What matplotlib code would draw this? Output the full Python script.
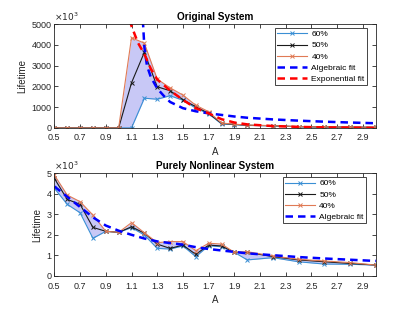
import matplotlib
matplotlib.use("Agg")
import matplotlib.pyplot as plt

plt.rcParams["font.family"] = ["Liberation Sans", "DejaVu Sans"]
plt.rcParams["font.size"] = 6.5

# ---- Original system ----
A_orig = [0.5, 0.6, 0.7, 0.8, 0.9, 1.0, 1.1, 1.2, 1.3, 1.4, 1.5, 1.6, 1.7,
          1.8, 1.9, 2.0, 2.2, 2.4, 2.6, 2.8, 3.0]
orig_60 = [0, 0, 0, 0, 0, 0, 0, 1430, 1380, 1550, 1330, 950, 680,
           190, 160, 120, 100, 55, 45, 35, 25]
orig_50 = [0, 0, 0, 0, 0, 0, 2170, 3640, 1980, 1790, 1360, 1020, 700,
           220, 170, 130, 105, 60, 48, 38, 28]
orig_40 = [0, 0, 0, 0, 0, 0, 4340, 4080, 2350, 1930, 1580, 1090, 780,
           235, 180, 135, 110, 62, 50, 40, 30]

alg_A_orig = [1.188, 1.2, 1.22, 1.25, 1.3, 1.35, 1.4, 1.5, 1.6, 1.7, 1.8,
              1.9, 2.0, 2.2, 2.4, 2.6, 2.8, 3.0]
alg_orig = [5200, 3900, 3000, 2450, 1900, 1550, 1250, 950, 800, 700, 625,
            550, 490, 410, 350, 300, 260, 225]

exp_A_orig = [1.085, 1.1, 1.15, 1.2, 1.25, 1.3, 1.4, 1.5, 1.6, 1.7, 1.8,
              1.9, 2.0, 2.2, 2.4, 2.6, 2.8, 3.0]
exp_orig = [5200, 4900, 4100, 3550, 2850, 2330, 1800, 1350, 950, 700, 420,
            260, 170, 90, 50, 25, 12, 5]

# ---- Purely nonlinear system ----
A_nl = A_orig
nl_60 = [4.26, 3.48, 3.07, 1.83, 2.17, 2.12, 2.35, 1.99, 1.34, 1.31, 1.46,
         0.94, 1.47, 1.42, 1.15, 0.78, 0.89, 0.69, 0.58, 0.57, 0.53]
nl_50 = [4.74, 3.72, 3.48, 2.36, 2.17, 2.12, 2.39, 2.08, 1.55, 1.34, 1.50,
         1.05, 1.50, 1.46, 1.15, 1.15, 0.94, 0.78, 0.69, 0.61, 0.53]
nl_40 = [4.90, 3.93, 3.61, 2.96, 2.17, 2.12, 2.59, 2.10, 1.62, 1.67, 1.67,
         1.23, 1.59, 1.55, 1.15, 1.18, 0.97, 0.81, 0.73, 0.65, 0.53]

alg_A_nl = [0.5, 0.6, 0.7, 0.8, 0.9, 1.0, 1.1, 1.2, 1.3, 1.4, 1.5, 1.6,
            1.7, 1.8, 2.0, 2.2, 2.4, 2.6, 2.8, 3.0]
alg_nl = [4.35, 3.85, 3.35, 2.85, 2.45, 2.2, 2.0, 1.82, 1.68, 1.60, 1.52,
          1.40, 1.31, 1.24, 1.10, 1.01, 0.92, 0.85, 0.79, 0.73]

C60 = "#3a8fd4"
C50 = "#1a1a1a"
C40 = "#e07a55"
FILL = "#c8c8f6"
AXC = "#262626"


def style_axes(ax, ymax, yticks):
    ax.set_xlim(0.5, 3.0)
    ax.set_ylim(0, ymax)
    ax.set_xticks([0.5 + 0.2 * i for i in range(13)])
    ax.set_xticklabels([f"{0.5 + 0.2 * i:.1f}" for i in range(13)])
    ax.set_yticks(yticks)
    ax.tick_params(direction="in", length=3, width=0.6, colors=AXC,
                   top=True, right=True, labelsize=6.5)
    ax.tick_params(axis="x", pad=4)
    ax.tick_params(axis="y", pad=2)
    for s in ax.spines.values():
        s.set_linewidth(0.6)
        s.set_color(AXC)
    ax.set_xlabel("A", color=AXC, fontsize=7, labelpad=3)
    ax.set_ylabel("Lifetime", color=AXC, fontsize=7, labelpad=3)
    ax.text(0.0, 1.01, r"$\times10^3$", transform=ax.transAxes,
            ha="left", va="bottom", color=AXC, fontsize=6.5)


def draw_series(ax, A, s60, s50, s40):
    lo = [min(v) for v in zip(s60, s50, s40)]
    hi = [max(v) for v in zip(s60, s50, s40)]
    ax.fill_between(A, lo, hi, color=FILL, linewidth=0)
    mk = dict(marker="x", markersize=3.5, markeredgewidth=0.7, linewidth=0.8)
    ax.plot(A, s60, color=C60, label="60%", **mk)
    ax.plot(A, s50, color=C50, label="50%", **mk)
    ax.plot(A, s40, color=C40, label="40%", **mk)


def add_legend(ax, anchor):
    leg = ax.legend(loc="upper right", bbox_to_anchor=anchor,
                    fontsize=6, handlelength=3.6, handletextpad=0.5,
                    labelspacing=0.4, borderpad=0.3, fancybox=False,
                    framealpha=1, edgecolor=AXC, borderaxespad=0)
    leg.get_frame().set_linewidth(0.6)


fig = plt.figure(figsize=(4.15, 3.12), dpi=100)
ax1 = fig.add_axes([0.131, 0.59, 0.7745, 0.333])
ax2 = fig.add_axes([0.131, 0.1154, 0.7745, 0.330])

draw_series(ax1, A_orig, orig_60, orig_50, orig_40)
ax1.plot(alg_A_orig, alg_orig, "--", color="#0000ff", linewidth=1.8,
         dashes=(3, 2), label="Algebraic fit")
ax1.plot(exp_A_orig, exp_orig, "--", color="#ff0000", linewidth=1.8,
         dashes=(3, 2), label="Exponential fit")
style_axes(ax1, 5000, [0, 1000, 2000, 3000, 4000, 5000])
ax1.set_title("Original System", fontsize=7.2, fontweight="bold", pad=3)
add_legend(ax1, (0.973, 0.962))

draw_series(ax2, A_nl, nl_60, nl_50, nl_40)
ax2.plot(alg_A_nl, alg_nl, "--", color="#0000ff", linewidth=1.8,
         dashes=(3, 2), label="Algebraic fit")
style_axes(ax2, 5, [0, 1, 2, 3, 4, 5])
ax2.set_title("Purely Nonlinear System", fontsize=7.2, fontweight="bold", pad=3)
add_legend(ax2, (0.97, 0.96))

fig.savefig("out.png", dpi=100)
